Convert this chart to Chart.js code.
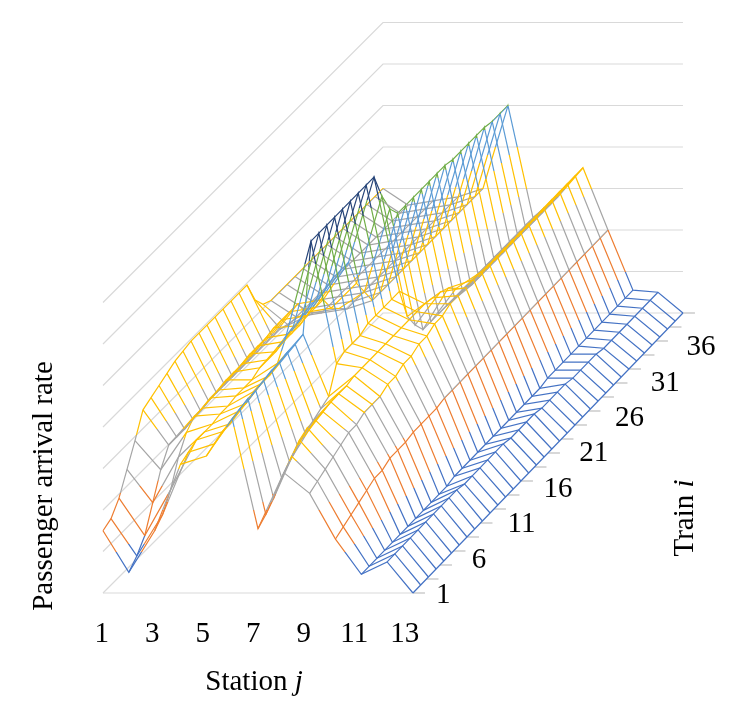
<!DOCTYPE html>
<html>
<head>
<meta charset="utf-8">
<script src="https://cdn.jsdelivr.net/npm/chart.js@4.4.1/dist/chart.umd.min.js"></script>
<style>
  html, body { margin: 0; padding: 0; background: #fff; }
  #wrap { width: 748px; height: 710px; }
</style>
</head>
<body>
<div id="wrap"><canvas id="surface"></canvas></div>
<script>
// categories
const stations = [1, 2, 3, 4, 5, 6, 7, 8, 9, 10, 11, 12, 13];
const trains = [1, 2, 3, 4, 5, 6, 7, 8, 9, 10, 11, 12, 13, 14, 15, 16, 17, 18,
                19, 20, 21, 22, 23, 24, 25, 26, 27, 28, 29, 30, 31, 32, 33, 34, 35, 36];
const stationTicks = [1, 3, 5, 7, 9, 11, 13];
const trainTicks = [1, 6, 11, 16, 21, 26, 31, 36];

// passenger arrival rate per station, one value per train
const rateSt1  = [1.5, 1.6, 1.9, 2.4, 2.9, 3.45, 3.55, 3.65, 3.75, 3.85, 3.9, 3.95, 3.95, 3.95, 3.95, 3.95, 3.95, 3.95, 3.95, 3.4, 3.1, 3.0, 3.0, 3.0, 3.0, 3.0, 3.0, 3.0, 3.0, 3.0, 3.0, 3.0, 3.0, 3.0, 3.0, 3.0];
const rateSt2  = [0.5, 0.7, 1.0, 1.6, 2.2, 2.6, 2.6, 2.6, 2.65, 2.65, 2.7, 2.7, 2.7, 2.7, 2.7, 2.7, 2.7, 2.7, 2.7, 2.7, 2.6, 2.6, 2.6, 2.6, 2.6, 2.6, 2.6, 2.6, 2.6, 2.6, 2.6, 2.6, 2.6, 2.6, 2.6, 2.6];
const rateSt3  = [1.5, 1.7, 2.1, 2.7, 3.1, 3.3, 3.3, 3.35, 3.35, 3.4, 3.4, 3.4, 3.45, 3.45, 3.45, 3.5, 3.5, 3.5, 3.5, 3.1, 2.9, 2.7, 2.7, 2.7, 2.7, 2.7, 2.7, 2.7, 2.7, 2.7, 2.7, 2.7, 2.7, 2.7, 2.7, 2.7];
const rateSt4  = [3.1, 3.2, 3.3, 3.3, 3.3, 3.35, 3.35, 3.4, 3.4, 3.4, 3.5, 3.5, 3.5, 3.55, 3.55, 3.55, 3.6, 3.6, 3.6, 3.2, 3.0, 2.8, 2.8, 2.8, 2.8, 2.8, 2.8, 2.8, 2.8, 2.8, 2.8, 2.8, 2.8, 2.8, 2.8, 2.8];
const rateSt5  = [3.3, 3.4, 3.5, 3.5, 3.6, 3.6, 3.7, 3.7, 3.7, 3.8, 4.2, 4.3, 4.3, 4.4, 4.4, 4.4, 4.5, 4.5, 4.5, 3.8, 3.4, 3.0, 3.0, 3.0, 3.0, 3.0, 3.0, 3.0, 3.0, 3.0, 3.0, 3.0, 3.0, 3.0, 3.0, 3.0];
const rateSt6  = [4.2, 4.25, 4.3, 4.3, 4.35, 4.4, 4.4, 4.45, 4.45, 4.5, 6.55, 6.55, 6.55, 6.55, 6.55, 6.55, 6.55, 6.55, 6.55, 5.9, 5.4, 5.1, 5.1, 5.1, 5.1, 5.1, 5.1, 5.1, 5.05, 5.05, 5.05, 5.05, 5.05, 5.0, 5.0, 5.0];
const rateSt7  = [1.55, 1.7, 1.9, 2.2, 2.4, 2.6, 2.7, 2.8, 2.9, 3.0, 3.6, 3.7, 3.7, 3.7, 3.8, 3.8, 3.8, 3.8, 3.8, 3.0, 2.6, 2.3, 2.3, 2.3, 2.3, 2.3, 2.3, 2.3, 2.3, 2.3, 2.3, 2.3, 2.3, 2.3, 2.3, 2.3];
const rateSt8  = [2.9, 3.1, 3.3, 3.4, 3.4, 3.4, 3.45, 3.45, 3.45, 3.5, 3.5, 3.5, 3.5, 3.5, 3.5, 3.5, 3.5, 3.5, 3.5, 3.45, 3.4, 3.3, 3.1, 2.9, 2.8, 2.8, 2.8, 2.8, 2.8, 2.8, 2.8, 2.8, 2.8, 2.8, 2.8, 2.8];
const rateSt9  = [2.4, 2.5, 2.6, 2.7, 2.8, 2.9, 2.9, 3.0, 3.0, 3.0, 3.1, 3.1, 3.2, 3.2, 3.3, 3.3, 3.4, 3.4, 3.5, 3.5, 3.5, 3.5, 3.5, 3.5, 3.5, 3.5, 3.5, 3.5, 3.5, 3.5, 3.5, 3.5, 3.5, 3.5, 3.5, 3.5];
const rateSt10 = [1.3, 1.4, 1.5, 1.6, 1.7, 1.8, 1.8, 1.9, 1.9, 1.9, 1.95, 1.95, 1.95, 1.95, 2.0, 2.0, 2.0, 2.0, 2.0, 2.0, 2.0, 2.0, 2.0, 2.0, 2.0, 2.0, 2.0, 2.0, 2.0, 2.0, 2.0, 2.0, 2.0, 2.0, 2.0, 2.0];
const rateSt11 = [0.45, 0.45, 0.45, 0.45, 0.45, 0.45, 0.45, 0.45, 0.45, 0.45, 0.45, 0.45, 0.5, 0.5, 0.5, 0.5, 0.5, 0.5, 0.5, 0.5, 0.5, 0.5, 0.5, 0.5, 0.55, 0.55, 0.55, 0.55, 0.55, 0.55, 0.55, 0.55, 0.55, 0.55, 0.55, 0.55];
const rateSt12 = [0.75, 0.75, 0.75, 0.75, 0.75, 0.75, 0.75, 0.75, 0.75, 0.75, 0.7, 0.7, 0.7, 0.7, 0.7, 0.7, 0.65, 0.65, 0.65, 0.65, 0.6, 0.6, 0.6, 0.6, 0.55, 0.55, 0.55, 0.55, 0.5, 0.5, 0.5, 0.5, 0.5, 0.5, 0.5, 0.5];
const rateSt13 = [0, 0, 0, 0, 0, 0, 0, 0, 0, 0, 0, 0, 0, 0, 0, 0, 0, 0, 0, 0, 0, 0, 0, 0, 0, 0, 0, 0, 0, 0, 0, 0, 0, 0, 0, 0];
const rates = [rateSt1, rateSt2, rateSt3, rateSt4, rateSt5, rateSt6, rateSt7,
               rateSt8, rateSt9, rateSt10, rateSt11, rateSt12, rateSt13];

// value axis: 0..7, one colour band per unit (Office palette, as Excel does)
const zMax = 7;
const bandColors = ['#4472C4', '#ED7D31', '#A5A5A5', '#FFC000', '#5B9BD5', '#70AD47', '#264478'];
const gridColor = '#d9d9d9';

// oblique projection of (station index, train index, value) into page space
const view = { x0: 103, y0: 593, stepFront: 25.83, stepShrink: 0.0238, depthX: 8.0, depthY: 8.0, unit: 41.5 };
function project(sj, ti, z) {
  const step = view.stepFront - ti * view.stepShrink;
  return { x: view.x0 + sj * step + ti * view.depthX, y: view.y0 - ti * view.depthY - z * view.unit };
}

function addBands(g) {
  bandColors.forEach((c, k) => {
    g.addColorStop(k / zMax, c);
    g.addColorStop((k + 1) / zMax - 0.0005, c);
  });
}

function px(chart, p) {
  return { x: chart.scales.x.getPixelForValue(p.x), y: chart.scales.y.getPixelForValue(p.y) };
}

// a train row: iso-value lines are horizontal
function rowColor(ctx) {
  const chart = ctx.chart;
  if (!chart.chartArea) return bandColors[0];
  const ti = ctx.dataset.train;
  const a = px(chart, project(0, ti, 0)), b = px(chart, project(0, ti, zMax));
  const g = chart.ctx.createLinearGradient(a.x, a.y, a.x, b.y);
  addBands(g);
  return g;
}

// a station column: iso-value lines run along the depth direction
function colColor(ctx) {
  const chart = ctx.chart;
  if (!chart.chartArea) return bandColors[0];
  const sj = ctx.dataset.station;
  const a = px(chart, project(sj, 0, 0));
  const d = px(chart, project(sj, 1, 0));
  const t = px(chart, project(sj, 0, zMax));
  const vx = d.x - a.x, vy = d.y - a.y;
  const len = Math.hypot(vx, vy);
  const nx = -vy / len, ny = vx / len;          // normal to depth direction
  const s = (t.x - a.x) * nx + (t.y - a.y) * ny;
  const g = chart.ctx.createLinearGradient(a.x, a.y, a.x + nx * s, a.y + ny * s);
  addBands(g);
  return g;
}

const lineW = 1.2;
const datasets = [];

trains.forEach((t, ti) => {
  datasets.push({
    train: ti,
    data: stations.map((s, sj) => project(sj, ti, rates[sj][ti])),
    borderColor: rowColor, borderWidth: lineW, order: 1
  });
});

stations.forEach((s, sj) => {
  datasets.push({
    station: sj,
    data: trains.map((t, ti) => project(sj, ti, rates[sj][ti])),
    borderColor: colColor, borderWidth: lineW, order: 1
  });
});

// walls and floor gridlines
const last = trains.length - 1, lastSt = stations.length - 1;
for (let k = 0; k <= zMax; k++) {
  datasets.push({ data: [project(0, 0, k), project(0, last, k), project(lastSt, last, k)],
                  borderColor: gridColor, borderWidth: 1.2, order: 5 });
}
datasets.push({ data: [project(0, 0, 0), project(lastSt, 0, 0)], borderColor: gridColor, borderWidth: 1.2, order: 5 });

// depth axis tick marks
const tickStep = 1.75;
for (let t = 0; t <= last + 0.01; t += tickStep) {
  const p = project(lastSt, t, 0);
  datasets.push({ data: [p, { x: p.x + 12, y: p.y }], borderColor: '#bfbfbf', borderWidth: 1.2, order: 5 });
}

const serif = '"Liberation Serif", "Times New Roman", serif';

const textPlugin = {
  id: 'axisText',
  afterDraw(chart) {
    const c = chart.ctx;
    const X = v => chart.scales.x.getPixelForValue(v);
    const Y = v => chart.scales.y.getPixelForValue(v);
    c.save();
    c.fillStyle = '#000';
    c.textBaseline = 'alphabetic';
    c.font = '29px ' + serif;

    // station labels
    c.textAlign = 'center';
    stationTicks.forEach(s => c.fillText(String(s), X(101.7 + (s - 1) * 25.25), Y(642)));

    // train labels along the depth axis
    c.textAlign = 'left';
    trainTicks.forEach(t => {
      const k = (t - 1) / 5;
      c.fillText(String(t), X(436 + k * 35.8), Y(603 - k * 35.4));
    });

    // axis titles
    function mixed(parts, cx, cy, rot) {
      c.save();
      c.translate(X(cx), Y(cy));
      c.rotate(rot);
      let w = 0;
      parts.forEach(p => { c.font = p[1] + '29px ' + serif; w += c.measureText(p[0]).width; });
      let x = -w / 2;
      c.textAlign = 'left';
      parts.forEach(p => { c.font = p[1] + '29px ' + serif; c.fillText(p[0], x, 0); x += c.measureText(p[0]).width; });
      c.restore();
    }
    mixed([['Station ', ''], ['j', 'italic ']], 254, 690, 0);
    mixed([['Passenger arrival rate', '']], 52, 486, -Math.PI / 2);
    mixed([['Train ', ''], ['i', 'italic ']], 693, 518, -Math.PI / 2);
    c.restore();
  }
};

new Chart(document.getElementById('surface'), {
  type: 'scatter',
  data: { datasets },
  options: {
    responsive: true,
    maintainAspectRatio: false,
    animation: false,
    events: [],
    layout: { padding: 0 },
    showLine: true,
    elements: { point: { radius: 0 }, line: { tension: 0 } },
    plugins: { legend: { display: false }, tooltip: { enabled: false } },
    scales: {
      x: { type: 'linear', min: 0, max: 748, display: false },
      y: { type: 'linear', min: 0, max: 710, reverse: true, display: false }
    }
  },
  plugins: [textPlugin]
});
</script>
</body>
</html>
